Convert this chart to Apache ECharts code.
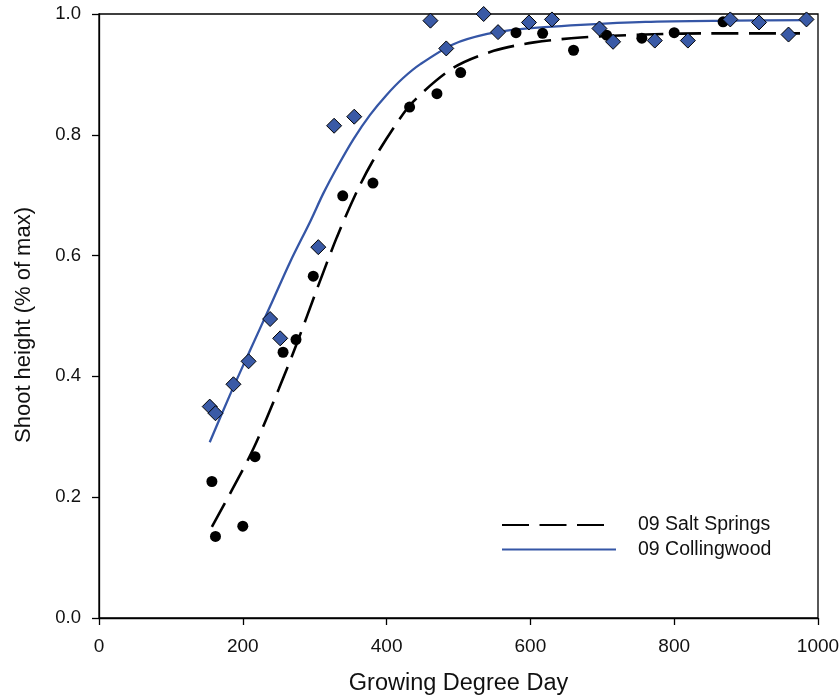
<!DOCTYPE html>
<html>
<head>
<meta charset="utf-8">
<script src="https://cdn.jsdelivr.net/npm/echarts@6/dist/echarts.min.js"></script>
<style>
  html, body { margin: 0; padding: 0; background: #fff; }
  #chart { width: 840px; height: 696px; }
</style>
</head>
<body>
<div id="chart"></div>
<script>
// Observed shoot heights, Salt Springs (circles)
const saltGDD = [157, 162, 200, 217, 256, 274, 298, 339, 381, 432, 470, 503, 580, 617, 660, 706, 755, 800, 868];
const saltHeight = [0.226, 0.135, 0.152, 0.267, 0.440, 0.461, 0.566, 0.699, 0.720, 0.846, 0.868, 0.903, 0.969, 0.968, 0.940, 0.965, 0.960, 0.969, 0.987];

// Observed shoot heights, Collingwood (diamonds)
const collGDD = [154, 162, 187, 208, 238, 252, 305, 327, 355, 461, 483, 535, 555, 598, 630, 696, 715, 773, 819, 878, 918, 959, 984];
const collHeight = [0.350, 0.339, 0.387, 0.425, 0.495, 0.463, 0.614, 0.815, 0.830, 0.989, 0.943, 1.000, 0.970, 0.986, 0.991, 0.976, 0.954, 0.956, 0.956, 0.991, 0.986, 0.966, 0.991];

// Fitted growth curves
const saltFitGDD = [157, 185, 215, 250, 275, 303, 331, 359, 380, 410, 437, 493, 549, 605, 670, 760, 840, 975];
const saltFitHeight = [0.151, 0.212, 0.281, 0.379, 0.454, 0.544, 0.631, 0.707, 0.755, 0.812, 0.855, 0.911, 0.939, 0.953, 0.961, 0.966, 0.968, 0.968];

const collFitGDD = [154, 182, 210, 238, 266, 294, 312, 333, 354, 377, 400, 423, 447, 493, 540, 586, 670, 760, 880, 984];
const collFitHeight = [0.291, 0.369, 0.443, 0.516, 0.590, 0.657, 0.703, 0.750, 0.793, 0.833, 0.866, 0.894, 0.917, 0.950, 0.967, 0.975, 0.982, 0.987, 0.989, 0.990];

const xTicks = [0, 200, 400, 600, 800, 1000];
const yTicks = [0.0, 0.2, 0.4, 0.6, 0.8, 1.0];

const blue = '#3556a6';
const font = 'Liberation Sans, Arial, sans-serif';

const pairs = (xs, ys) => xs.map((x, i) => [x, ys[i]]);

const chart = echarts.init(document.getElementById('chart'), null, { renderer: 'canvas' });

// legend entries show the line only, no marker
const hiddenMarker = { color: 'transparent', borderColor: 'transparent', borderWidth: 0, opacity: 0 };

chart.setOption({
  animation: false,
  backgroundColor: '#fff',
  grid: {
    left: 99, right: 22, top: 14, bottom: 78,
    outerBoundsMode: 'none',
    containLabel: false,
    show: true, borderColor: '#000', borderWidth: 1.3, backgroundColor: 'transparent'
  },
  xAxis: {
    type: 'value',
    min: xTicks[0], max: xTicks[xTicks.length - 1], interval: xTicks[1] - xTicks[0],
    name: 'Growing Degree Day',
    nameLocation: 'middle', nameGap: 54,
    nameTextStyle: { fontFamily: font, fontSize: 23.5, color: '#111' },
    axisLine: { show: true, lineStyle: { color: '#000', width: 1.3 } },
    axisTick: { show: true, inside: false, length: 7, lineStyle: { color: '#000', width: 1.3 } },
    axisLabel: { fontFamily: font, fontSize: 19, color: '#111', margin: 19,
      formatter: v => String(v) },
    splitLine: { show: false }
  },
  yAxis: {
    type: 'value',
    min: yTicks[0], max: yTicks[yTicks.length - 1], interval: 0.2,
    name: 'Shoot height (% of max)',
    nameLocation: 'middle', nameGap: 64, nameRotate: 90,
    nameTextStyle: { fontFamily: font, fontSize: 22, color: '#111', padding: [0, 18, 0, 0] },
    axisLine: { show: true, lineStyle: { color: '#000', width: 1.3 } },
    axisTick: { show: true, inside: false, length: 7, lineStyle: { color: '#000', width: 1.3 } },
    axisLabel: { fontFamily: font, fontSize: 18.5, color: '#111', margin: 18,
      formatter: v => v.toFixed(1) },
    splitLine: { show: false }
  },
  legend: {
    data: [
      { name: '09 Salt Springs', itemStyle: hiddenMarker,
        lineStyle: { type: [27, 10.5, 27, 10.5, 27, 20] } },
      { name: '09 Collingwood', itemStyle: hiddenMarker }
    ],
    orient: 'vertical',
    left: 496, top: 510,
    itemWidth: 114, itemHeight: 14, itemGap: 4.5,
    itemStyle: hiddenMarker,
    formatter: name => '{gap|}{t|' + name + '}',
    textStyle: {
      fontFamily: font, fontSize: 19.5, color: '#111',
      rich: {
        gap: { width: 17 },
        t: { fontFamily: font, fontSize: 19.5, color: '#111' }
      }
    }
  },
  series: [
    {
      name: '09 Salt Springs',
      type: 'line',
      data: pairs(saltFitGDD, saltFitHeight),
      smooth: 0.3,
      symbol: 'none',
      lineStyle: { color: '#000', width: 2.6, type: [27, 10.5] },
      itemStyle: { color: '#000' },
      z: 2
    },
    {
      name: '09 Collingwood',
      type: 'line',
      data: pairs(collFitGDD, collFitHeight),
      smooth: 0.3,
      symbol: 'none',
      lineStyle: { color: blue, width: 2.3 },
      itemStyle: { color: blue },
      z: 2
    },
    {
      name: 'Salt Springs observed',
      type: 'scatter',
      data: pairs(saltGDD, saltHeight),
      symbol: 'circle',
      symbolSize: 11,
      itemStyle: { color: '#000', opacity: 1 },
      z: 3
    },
    {
      name: 'Collingwood observed',
      type: 'scatter',
      data: pairs(collGDD, collHeight),
      symbol: 'diamond',
      symbolSize: 15,
      itemStyle: { color: '#3a5aa6', borderColor: '#000', borderWidth: 1, opacity: 1 },
      z: 4
    }
  ]
});
</script>
</body>
</html>
